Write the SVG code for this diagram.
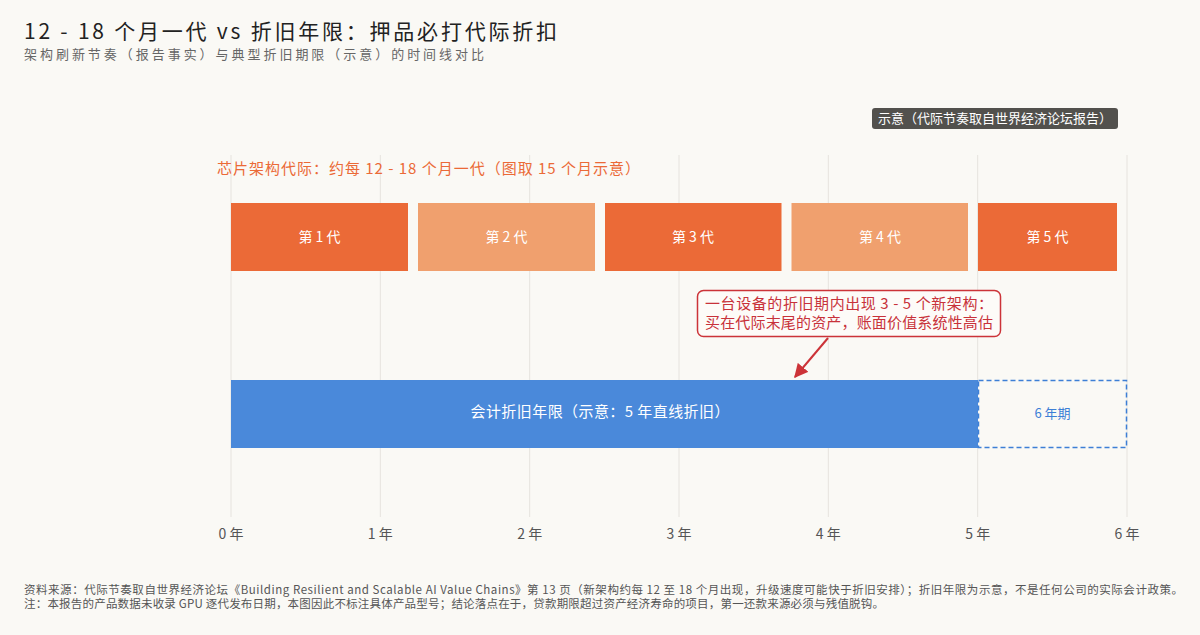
<svg xmlns="http://www.w3.org/2000/svg" width="1200" height="635" viewBox="0 0 1200 635">
<defs>
<style>
text{font-family:"Noto Sans CJK SC","Noto Sans",sans-serif}
.grid{stroke:#e6e3de;stroke-width:1}
.gd{fill:#EB6A37}
.gl{fill:#F0A06E}
.gt{fill:#ffffff;font-size:14px;text-anchor:middle}
.ax{fill:#555;font-size:14px;text-anchor:middle}
.ft{fill:#555;font-size:11.5px}
</style>
<marker id="ah" viewBox="0 0 10 10" refX="9" refY="5" markerWidth="7" markerHeight="7" orient="auto-start-reverse">
<path d="M0,0 L10,5 L0,10 z" fill="#CC3338"/>
</marker>
</defs>
<rect width="1200" height="635" fill="#FAF9F5"/>
<text x="24" y="39" font-size="21" fill="#222" textLength="533" lengthAdjust="spacing">12 - 18 个月一代 vs 折旧年限：押品必打代际折扣</text>
<text x="24" y="59" font-size="13" fill="#666" textLength="460" lengthAdjust="spacing">架构刷新节奏（报告事实）与典型折旧期限（示意）的时间线对比</text>
<g id="grid">
<line class="grid" x1="231" y1="155" x2="231" y2="517"/>
<line class="grid" x1="380.3" y1="155" x2="380.3" y2="517"/>
<line class="grid" x1="529.7" y1="155" x2="529.7" y2="517"/>
<line class="grid" x1="679" y1="155" x2="679" y2="517"/>
<line class="grid" x1="828.3" y1="155" x2="828.3" y2="517"/>
<line class="grid" x1="977.7" y1="155" x2="977.7" y2="517"/>
<line class="grid" x1="1127" y1="155" x2="1127" y2="517"/>
</g>
<g id="legend">
<rect x="872" y="108" width="246" height="21" rx="3" fill="#52514D"/>
<text x="995" y="123" font-size="13" fill="#fff" text-anchor="middle">示意（代际节奏取自世界经济论坛报告）</text>
</g>
<text x="217" y="174" font-size="15" fill="#EB6A37" textLength="423" lengthAdjust="spacing">芯片架构代际：约每 12 - 18 个月一代（图取 15 个月示意）</text>
<g id="gen1"><rect class="gd" x="231" y="203" width="177" height="68"/><text class="gt" x="319.5" y="242">第 1 代</text></g>
<g id="gen2"><rect class="gl" x="418" y="203" width="177" height="68"/><text class="gt" x="506.5" y="242">第 2 代</text></g>
<g id="gen3"><rect class="gd" x="605" y="203" width="176.5" height="68"/><text class="gt" x="693" y="242">第 3 代</text></g>
<g id="gen4"><rect class="gl" x="791.5" y="203" width="176.5" height="68"/><text class="gt" x="880" y="242">第 4 代</text></g>
<g id="gen5"><rect class="gd" x="978" y="203" width="139" height="68"/><text class="gt" x="1047.5" y="242">第 5 代</text></g>
<g id="depr"><rect x="231" y="380" width="747" height="68" fill="#4A89DA"/><text x="600" y="417" font-size="15" fill="#fff" text-anchor="middle" textLength="259" lengthAdjust="spacing">会计折旧年限（示意：5 年直线折旧）</text></g>
<g id="ext"><rect x="978.5" y="380.5" width="148" height="67" fill="none" stroke="#3D7FD6" stroke-width="1.5" stroke-dasharray="5,3"/><text x="1052.5" y="418" font-size="13" fill="#3D7FD6" text-anchor="middle">6 年期</text></g>
<g id="note">
<rect x="697.5" y="290.5" width="303" height="46" rx="6" fill="#FDFBF8" stroke="#CC3338" stroke-width="1.5"/>
<text x="849" y="309" font-size="15" fill="#C8323A" text-anchor="middle" textLength="288" lengthAdjust="spacing">一台设备的折旧期内出现 3 - 5 个新架构：</text>
<text x="849" y="328" font-size="15" fill="#C8323A" text-anchor="middle" textLength="288" lengthAdjust="spacing">买在代际末尾的资产，账面价值系统性高估</text>
</g>
<g id="connectors">
<line x1="828" y1="338" x2="795" y2="377" stroke="#CC3338" stroke-width="2" marker-end="url(#ah)"/>
</g>
<g id="axis">
<text class="ax" x="231" y="539">0 年</text>
<text class="ax" x="380.3" y="539">1 年</text>
<text class="ax" x="529.7" y="539">2 年</text>
<text class="ax" x="679" y="539">3 年</text>
<text class="ax" x="828.3" y="539">4 年</text>
<text class="ax" x="977.7" y="539">5 年</text>
<text class="ax" x="1127" y="539">6 年</text>
</g>
<text class="ft" x="24" y="594" textLength="1159" lengthAdjust="spacing">资料来源：代际节奏取自世界经济论坛《Building Resilient and Scalable AI Value Chains》第 13 页（新架构约每 12 至 18 个月出现，升级速度可能快于折旧安排）；折旧年限为示意，不是任何公司的实际会计政策。</text>
<text class="ft" x="24" y="608" textLength="860" lengthAdjust="spacing">注：本报告的产品数据未收录 GPU 逐代发布日期，本图因此不标注具体产品型号；结论落点在于，贷款期限超过资产经济寿命的项目，第一还款来源必须与残值脱钩。</text>
</svg>
